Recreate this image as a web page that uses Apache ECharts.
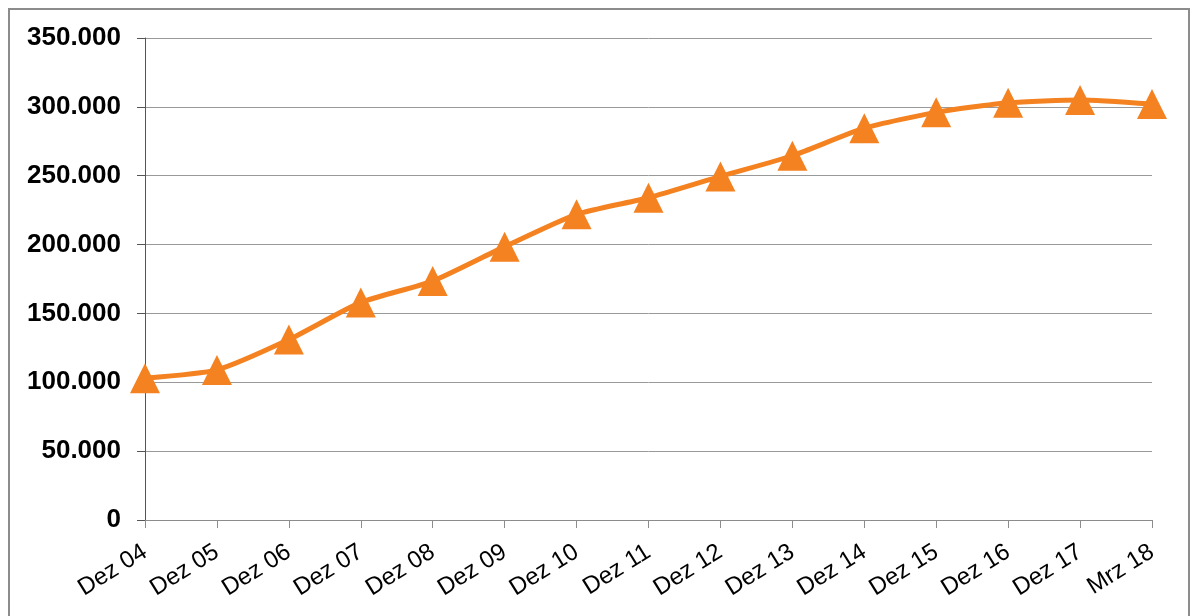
<!DOCTYPE html>
<html>
<head>
<meta charset="utf-8">
<script src="https://cdn.jsdelivr.net/npm/echarts@6/dist/echarts.min.js"></script>
<style>
  html, body { margin: 0; padding: 0; background: #fff; }
  #chart { width: 1191px; height: 616px; }
</style>
</head>
<body>
<div id="chart"></div>
<script>
const categories = ['Dez 04', 'Dez 05', 'Dez 06', 'Dez 07', 'Dez 08', 'Dez 09', 'Dez 10',
  'Dez 11', 'Dez 12', 'Dez 13', 'Dez 14', 'Dez 15', 'Dez 16', 'Dez 17', 'Mrz 18']
const values = [103000, 109000, 131000, 158000, 173500, 198500, 222000,
  234000, 249500, 264500, 284500, 296000, 303000, 305000, 302000]
const yMin = 0
const yMax = 350000
const yStep = 50000

function formatDe(v) {
  return String(v).replace(/\B(?=(\d{3})+(?!\d))/g, '.')
}

const chart = echarts.init(document.getElementById('chart'))

chart.setOption({
  animation: false,
  graphic: [{
    type: 'rect',
    shape: { x: 9, y: 9, width: 1180, height: 640 },
    style: { fill: 'none', stroke: '#8c8c8c', lineWidth: 2 }
  }],
  grid: { left: 145, right: 39, top: 38, bottom: 96 },
  xAxis: {
    type: 'category',
    data: categories,
    boundaryGap: false,
    axisLine: { lineStyle: { color: '#8c8c8c', width: 1 } },
    axisTick: { show: true, length: 8, alignWithLabel: true, lineStyle: { color: '#8c8c8c' } },
    axisLabel: {
      rotate: 32,
      margin: 30,
      interval: 0,
      fontFamily: 'Liberation Sans, Arial, sans-serif',
      fontSize: 24,
      color: '#000'
    }
  },
  yAxis: {
    type: 'value',
    min: yMin,
    max: yMax,
    interval: yStep,
    axisLine: { show: true, lineStyle: { color: '#555', width: 1 } },
    axisTick: { show: true, length: 8, lineStyle: { color: '#555' } },
    splitLine: { lineStyle: { color: '#999', width: 1 } },
    axisLabel: {
      margin: 24,
      formatter: formatDe,
      fontFamily: 'Liberation Sans, Arial, sans-serif',
      fontWeight: 'bold',
      fontSize: 26,
      color: '#000'
    }
  },
  series: [{
    type: 'line',
    data: values,
    smooth: 0.2,
    symbol: 'triangle',
    symbolSize: [30, 30],
    lineStyle: { color: '#F58220', width: 5 },
    itemStyle: { color: '#F58220' }
  }]
})
</script>
</body>
</html>
